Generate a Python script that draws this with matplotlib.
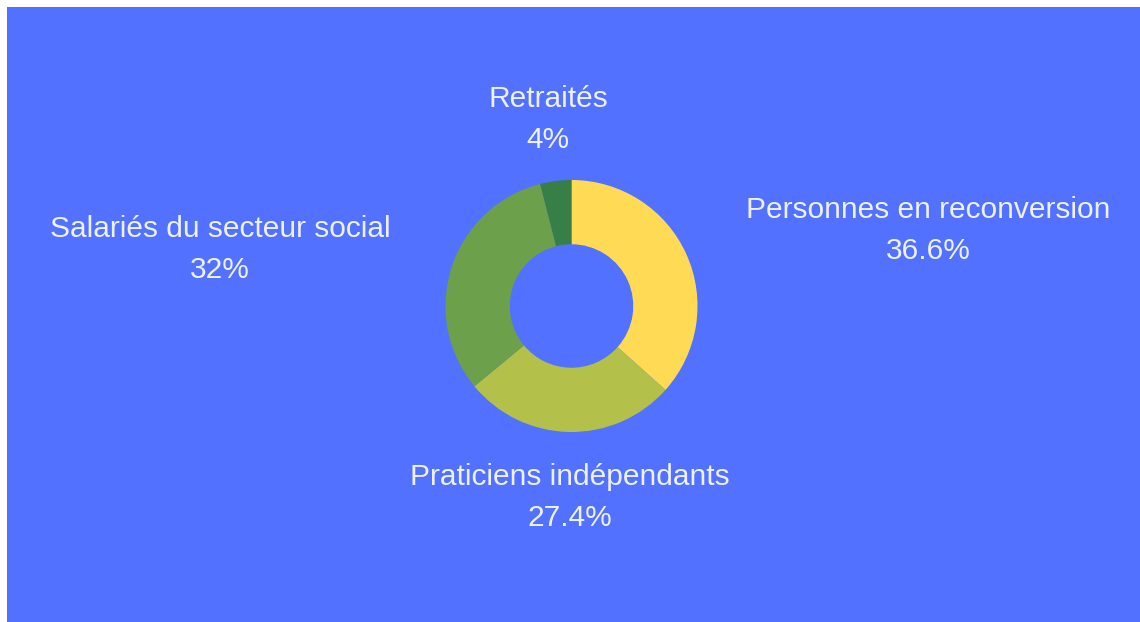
import matplotlib
matplotlib.use("Agg")
import matplotlib.pyplot as plt
from matplotlib.patches import Rectangle

# data
labels = ["Personnes en reconversion", "Praticiens indépendants",
          "Salariés du secteur social", "Retraités"]
pct_text = ["36.6%", "27.4%", "32%", "4%"]
values = [36.6, 27.4, 32.0, 4.0]
colors = ["#FFDA55", "#B3C14B", "#6DA04A", "#387E47"]

W, H = 1140, 622
bg = "#5271FF"
txt_col = "#EEF1FF"

fig = plt.figure(figsize=(W / 100, H / 100), dpi=100, facecolor="white")
# blue panel (small white margin on top and left)
fig.patches.append(Rectangle((7 / W, 0), 1 - 7 / W, 1 - 7 / H,
                             transform=fig.transFigure, facecolor=bg,
                             edgecolor="none", zorder=-5))

# donut centred at (571.5, 306) px, outer radius ~126 px
cx, cy, r = 571.5, 306, 126
half = 160
ax = fig.add_axes([(cx - half) / W, 1 - (cy + half) / H, 2 * half / W, 2 * half / H])
ax.set_zorder(2)
ax.set_facecolor("none")
ax.pie(values, colors=colors, startangle=90, counterclock=False, radius=1,
       wedgeprops=dict(width=0.51, edgecolor="none"))
lim = half / r
ax.set_xlim(-lim, lim)
ax.set_ylim(-lim, lim)
ax.set_aspect("equal")
ax.axis("off")

# label positions in pixels: (x centre, baseline of first line)
label_pos = [(928, 218), (570, 485), (220, 237), (548, 107)]
line_gap = 41
for lab, pt, (x, y) in zip(labels, pct_text, label_pos):
    fig.text(x / W, 1 - y / H, lab, ha="center", va="baseline",
             color=txt_col, fontsize=21.5, family="Liberation Sans", zorder=3)
    fig.text(x / W, 1 - (y + line_gap) / H, pt, ha="center", va="baseline",
             color=txt_col, fontsize=21.5, family="Liberation Sans", zorder=3)

fig.savefig("out.png", dpi=100, facecolor="white")
